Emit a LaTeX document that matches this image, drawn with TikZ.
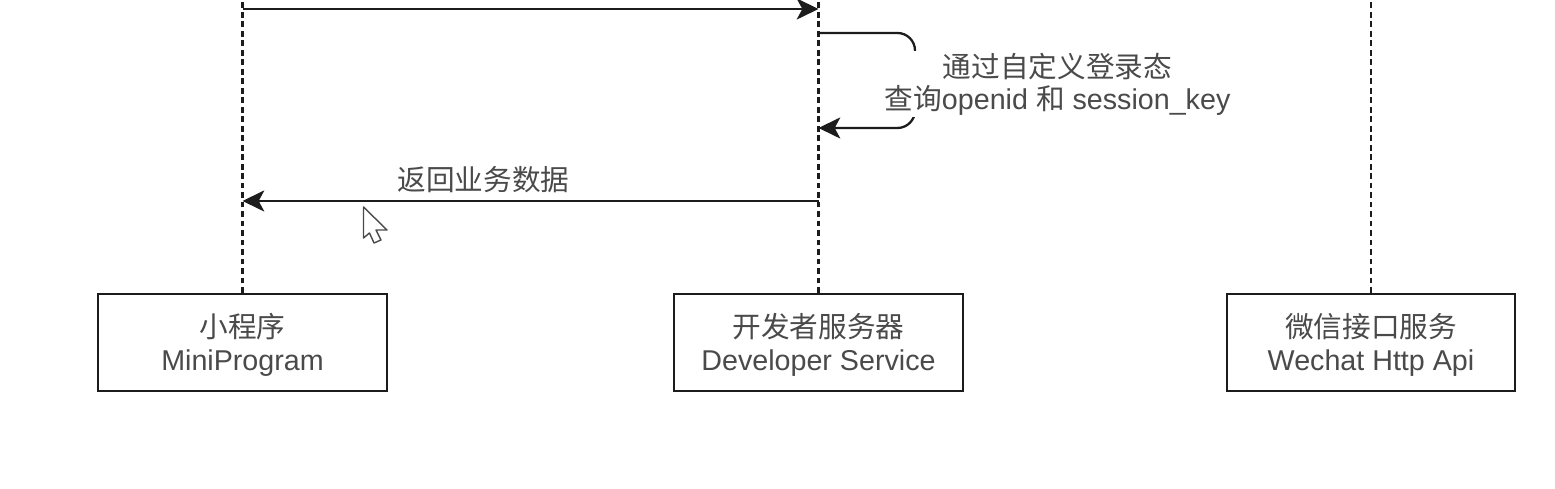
\documentclass[tikz,border=0pt]{standalone}
\usepackage{fontspec}
\setmainfont{Liberation Sans}
\newfontfamily\cjk{Noto Sans CJK SC}
\usetikzlibrary{arrows.meta}
\definecolor{inkgray}{HTML}{1C1C1C}
\definecolor{textgray}{HTML}{4A4A4A}
\newcommand{\actortext}[2]{\rule{0pt}{8.1pt}{\cjk #1}\\#2}
\tikzset{
    actorbox/.style={draw=inkgray, line width=0.58pt, fill=white, minimum width=2.88cm, minimum height=0.97cm, inner sep=0pt, align=center, text=textgray, font=\fontsize{8.15}{9.5}\selectfont},
    lifeline/.style={draw=inkgray, line width=0.6pt, dash pattern=on 1.6pt off 1.1pt},
    msg/.style={draw=inkgray, line width=0.65pt, -{Stealth[length=6.2pt, width=6pt, inset=1.6pt]}},
    msglabel/.style={inner sep=0pt, align=center, text=textgray, font=\fontsize{8.15}{9.1}\selectfont}
}
\begin{document}
\begin{tikzpicture}[x=0.01cm, y=-0.01cm]
    \useasboundingbox (0,0) rectangle (1555,489);
    \clip (0,0) rectangle (1555,489);

    % Actors along the bottom
    \node[actorbox] (mini) at (242.5,342.5) {\actortext{小程序}{MiniProgram}};
    \node[actorbox] (dev) at (818.5,342.5) {\actortext{开发者服务器}{Developer Service}};
    \node[actorbox] (wechat) at (1371,342.5) {\actortext{微信接口服务}{Wechat Http Api}};

    % Lifelines, running out of the top
    \coordinate (minitop) at (242.5,0);
    \coordinate (devtop) at (818.5,0);
    \coordinate (wechattop) at (1371,0);
    \draw[lifeline] (mini.north) -- (minitop);
    \draw[lifeline] (dev.north) -- (devtop);
    \draw[lifeline] (wechat.north) -- (wechattop);

    % Points on the lifelines
    \coordinate (minireq) at (242.5,9);
    \coordinate (devreq) at (818.5,9);
    \coordinate (loopstart) at (818.5,33);
    \coordinate (loopright) at (915,33);
    \coordinate (loopdown) at (915,128);
    \coordinate (loopend) at (818.5,128);
    \coordinate (devret) at (818.5,201);
    \coordinate (miniret) at (242.5,201);

    \draw[msg] (minireq) -- (devreq);

    % Self call, the label sits on top of it
    \draw[msg, rounded corners=5pt] (loopstart) -- (loopright) -- (loopdown) -- (loopend);
    \node[msglabel, fill=white, minimum height=0.66cm] (looplabel) at (1057.5,84) {{\cjk 通过自定义登录态}\\{\cjk 查询}openid {\cjk 和} session\_key};

    \draw[msg] (devret) -- (miniret);
    \node[msglabel] (retlabel) at (483.5,180) {\cjk 返回业务数据};

    % Mouse pointer
    \draw[draw=textgray, fill=white, line width=0.4pt, line join=round] (363.5,207) -- (387,230) -- (376,230) -- (381,240) -- (374,243) -- (369.5,233) -- (363.5,238) -- cycle;
\end{tikzpicture}
\end{document}
